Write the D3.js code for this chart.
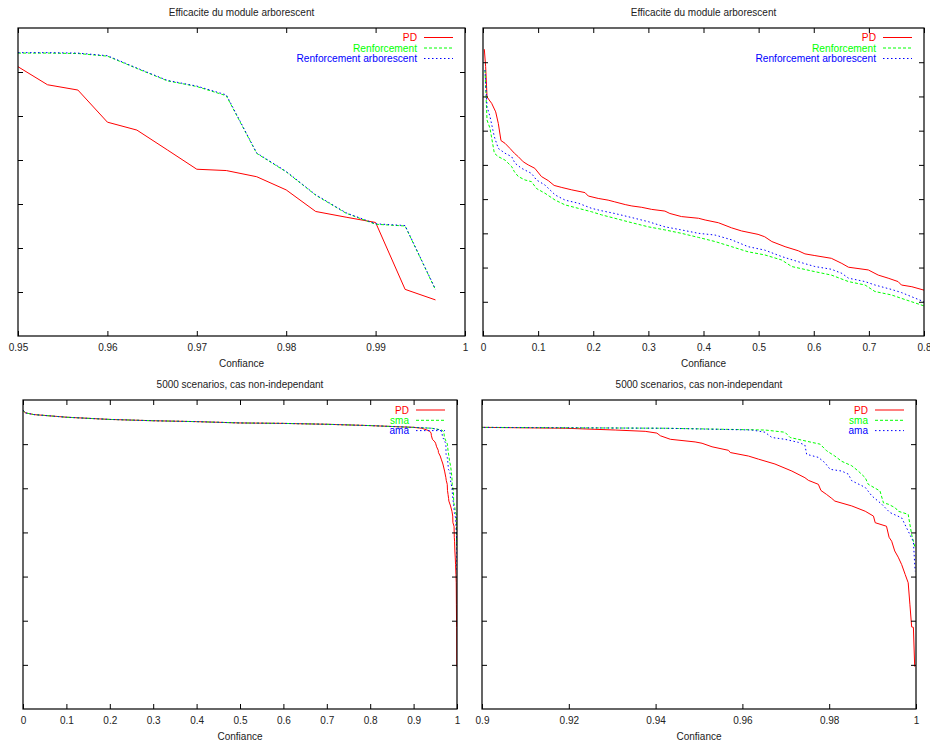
<!DOCTYPE html>
<html><head><meta charset="utf-8">
<script src="https://cdn.jsdelivr.net/npm/d3@7"></script>
<style>body{margin:0;background:#fff}svg text{font-family:"Liberation Sans",Arial,sans-serif}</style>
</head><body>
<svg id="c" width="930" height="742"></svg>
<script>
// ---------- DATA ----------
const titleTop = "Efficacite du module arborescent";
const titleBottom = "5000 scenarios, cas non-independant";
const xLabel = "Confiance";
const legendTop = ["PD", "Renforcement", "Renforcement arborescent"];
const legendBottom = ["PD", "sma", "ama"];

// Panel 1 (x = confiance 0.95..1)
const p1x = [0.95, 0.9533, 0.9567, 0.96, 0.9633, 0.9667, 0.97, 0.9733, 0.9767, 0.98, 0.9833, 0.9867, 0.99, 0.9933, 0.9967];
const p1PD   = [6.12, 5.71, 5.59, 4.86, 4.68, 4.23, 3.79, 3.76, 3.62, 3.32, 2.83, 2.70, 2.58, 1.06, 0.82];
const p1Renf = [6.43, 6.43, 6.42, 6.36, 6.08, 5.80, 5.67, 5.46, 4.15, 3.73, 3.20, 2.79, 2.54, 2.50, 1.05];
const p1Arb  = [6.44, 6.44, 6.43, 6.37, 6.09, 5.81, 5.68, 5.48, 4.16, 3.74, 3.21, 2.80, 2.55, 2.51, 1.06];
const p1XTicks = [0.95, 0.96, 0.97, 0.98, 0.99, 1];

// Panel 2 (x = confiance 0..0.8)
const p2PD = [[0.0024,8.38],[0.0048,7.87],[0.0073,6.99],[0.011,6.90],[0.0157,6.80],[0.023,6.55],[0.0278,6.21],[0.0326,5.71],[0.040,5.63],[0.049,5.48],[0.057,5.34],[0.064,5.24],[0.073,5.09],[0.082,5.00],[0.094,4.90],[0.106,4.66],[0.1185,4.54],[0.129,4.40],[0.143,4.34],[0.161,4.27],[0.185,4.19],[0.191,4.09],[0.209,4.02],[0.227,3.97],[0.239,3.92],[0.258,3.84],[0.270,3.80],[0.288,3.76],[0.306,3.70],[0.330,3.65],[0.339,3.58],[0.360,3.49],[0.391,3.44],[0.403,3.39],[0.427,3.31],[0.451,3.16],[0.469,3.07],[0.499,2.97],[0.511,2.90],[0.524,2.76],[0.548,2.61],[0.572,2.49],[0.584,2.40],[0.602,2.35],[0.632,2.27],[0.651,2.12],[0.663,2.01],[0.699,1.93],[0.717,1.78],[0.735,1.69],[0.753,1.59],[0.759,1.49],[0.778,1.44],[0.800,1.34]];
const p2Renf = [[0.0036,7.77],[0.0073,6.31],[0.0127,6.07],[0.0206,5.34],[0.0278,5.24],[0.040,5.14],[0.052,4.95],[0.057,4.80],[0.064,4.66],[0.076,4.56],[0.088,4.51],[0.097,4.31],[0.1125,4.17],[0.131,3.97],[0.149,3.83],[0.173,3.73],[0.197,3.63],[0.215,3.54],[0.239,3.44],[0.270,3.31],[0.300,3.19],[0.330,3.10],[0.360,3.00],[0.391,2.88],[0.421,2.76],[0.451,2.61],[0.481,2.46],[0.511,2.37],[0.542,2.22],[0.560,2.03],[0.602,1.88],[0.632,1.78],[0.663,1.59],[0.693,1.49],[0.711,1.30],[0.741,1.20],[0.759,1.10],[0.800,0.88]];
const p2Arb = [[0.0036,7.77],[0.0073,6.70],[0.0127,6.41],[0.0206,5.82],[0.0278,5.48],[0.040,5.34],[0.052,5.24],[0.058,5.05],[0.070,4.90],[0.088,4.75],[0.097,4.56],[0.1125,4.41],[0.131,4.12],[0.149,3.97],[0.173,3.88],[0.197,3.73],[0.215,3.66],[0.239,3.58],[0.270,3.46],[0.300,3.34],[0.330,3.19],[0.360,3.10],[0.391,3.00],[0.421,2.95],[0.451,2.81],[0.481,2.61],[0.511,2.51],[0.542,2.32],[0.572,2.17],[0.602,2.03],[0.632,1.95],[0.651,1.83],[0.663,1.69],[0.693,1.59],[0.711,1.49],[0.741,1.36],[0.759,1.27],[0.800,1.00]];
const p2XTicks = [0, 0.1, 0.2, 0.3, 0.4, 0.5, 0.6, 0.7, 0.8];

// Panels 3 & 4 (same series, full range and zoom on 0.9..1)
const sHead = [[0,6.77],[0.005,6.71],[0.025,6.67],[0.1,6.61],[0.2,6.56],[0.3,6.53],[0.4,6.51],[0.5,6.48],[0.6,6.47],[0.7,6.45],[0.8,6.42],[0.9,6.38]];
const sPD = [[0.9192,6.36],[0.9307,6.32],[0.9376,6.29],[0.9403,6.25],[0.9411,6.19],[0.9434,6.11],[0.9491,6.05],[0.9507,6.02],[0.9530,5.94],[0.9568,5.86],[0.9572,5.81],[0.9614,5.73],[0.9637,5.66],[0.9675,5.55],[0.9714,5.39],[0.9744,5.24],[0.9752,5.18],[0.9775,5.09],[0.9781,4.95],[0.9794,4.86],[0.9806,4.77],[0.9813,4.71],[0.9852,4.60],[0.9883,4.48],[0.9902,4.37],[0.9906,4.22],[0.9932,4.14],[0.9938,3.89],[0.9944,3.80],[0.9951,3.58],[0.9959,3.44],[0.9967,3.27],[0.9975,3.05],[0.9982,2.86],[0.9986,2.36],[0.9990,1.86],[0.9994,1.85],[0.9997,0.96]];
const sSma = [[0.9422,6.36],[0.9652,6.32],[0.9698,6.27],[0.9710,6.15],[0.9760,6.04],[0.9779,6.00],[0.9794,5.85],[0.9813,5.73],[0.9829,5.61],[0.9852,5.51],[0.9867,5.39],[0.9883,5.24],[0.9890,5.09],[0.9917,4.94],[0.9925,4.67],[0.9936,4.64],[0.9952,4.56],[0.9959,4.48],[0.9982,4.41],[0.9990,3.95],[0.9998,3.65]];
const sAma = [[0.9422,6.36],[0.9622,6.32],[0.9652,6.27],[0.9668,6.15],[0.9698,6.11],[0.9729,6.04],[0.9744,5.98],[0.9748,5.77],[0.9775,5.70],[0.9790,5.58],[0.9802,5.43],[0.9829,5.39],[0.9844,5.32],[0.9852,5.17],[0.9883,5.02],[0.9898,4.83],[0.9921,4.64],[0.9940,4.45],[0.9967,4.33],[0.9986,3.95],[0.9994,3.79],[0.9998,3.12]];
const p3XTicks = [0, 0.1, 0.2, 0.3, 0.4, 0.5, 0.6, 0.7, 0.8, 0.9, 1];
const p4XTicks = [0.9, 0.92, 0.94, 0.96, 0.98, 1];

// ---------- STYLES ----------
const seriesColors = ["#ff0000", "#00ff00", "#0000ff"];
const seriesDash = [null, "3,2", "1.5,2.5"];

const svg = d3.select("#c");

function panel(cfg) {
  const {l, t, r, b} = cfg.frame;
  const x = d3.scaleLinear().domain(cfg.xDomain).range([l, r]);
  const y = d3.scaleLinear().domain(cfg.yDomain).range([b, t]);
  const g = svg.append("g");
  const id = "clip" + cfg.id;
  svg.append("clipPath").attr("id", id).append("rect")
    .attr("x", l).attr("y", t).attr("width", r - l).attr("height", b - t);

  const line = d3.line().x(d => x(d[0])).y(d => y(d[1]));
  const sg = g.append("g").attr("clip-path", `url(#${id})`);
  cfg.series.forEach((s, i) => {
    sg.append("path").datum(s).attr("d", line)
      .attr("fill", "none").attr("stroke", seriesColors[i]).attr("stroke-width", 1)
      .attr("stroke-dasharray", seriesDash[i]);
  });

  const tl = 5;
  const bx = g.append("g").attr("transform", `translate(0,${b})`)
    .call(d3.axisBottom(x).tickValues(cfg.xTicks).tickSize(-tl).tickPadding(8)
      .tickFormat(d => String(+d.toFixed(3))));
  bx.select(".domain").remove();
  bx.selectAll("text").attr("font-size", 10).attr("fill", "#222").attr("dy", "0.71em");
  bx.selectAll("line").attr("stroke", "#000");
  const tx = g.append("g").attr("transform", `translate(0,${t})`)
    .call(d3.axisTop(x).tickValues(cfg.xTicks).tickSize(-tl).tickFormat(""));
  tx.select(".domain").remove();
  const yTicks = d3.range(cfg.yDomain[0] + 1, cfg.yDomain[1]);
  const ly = g.append("g").attr("transform", `translate(${l},0)`)
    .call(d3.axisLeft(y).tickValues(yTicks).tickSize(-tl).tickFormat(""));
  ly.select(".domain").remove();
  const ry = g.append("g").attr("transform", `translate(${r},0)`)
    .call(d3.axisRight(y).tickValues(yTicks).tickSize(-tl).tickFormat(""));
  ry.select(".domain").remove();

  g.append("rect").attr("x", l).attr("y", t).attr("width", r - l).attr("height", b - t)
    .attr("fill", "none").attr("stroke", "#000").attr("stroke-width", 1.2);

  g.append("text").attr("x", (l + r) / 2).attr("y", t - 12).attr("text-anchor", "middle")
    .attr("font-size", 10).attr("fill", "#222").text(cfg.title);
  g.append("text").attr("x", (l + r) / 2).attr("y", b + 31).attr("text-anchor", "middle")
    .attr("font-size", 10).attr("fill", "#222").text(xLabel);

  cfg.legend.forEach((name, i) => {
    const yy = cfg.legendPos[1] + i * cfg.legendStep;
    g.append("text").attr("x", cfg.legendPos[0]).attr("y", yy).attr("dy", "0.35em")
      .attr("text-anchor", "end").attr("font-size", cfg.legendFont).attr("fill", seriesColors[i]).text(name);
    g.append("line").attr("x1", cfg.legendPos[0] + 7).attr("x2", cfg.legendPos[0] + 36)
      .attr("y1", yy).attr("y2", yy).attr("stroke", seriesColors[i]).attr("stroke-width", 1)
      .attr("stroke-dasharray", seriesDash[i]);
  });
}

const zip = (xs, ys) => xs.map((v, i) => [v, ys[i]]);

panel({id: 1, frame: {l: 18, t: 28, r: 465, b: 336}, xDomain: [0.95, 1], yDomain: [0, 7],
  xTicks: p1XTicks, title: titleTop, legend: legendTop, legendPos: [417, 37.5], legendStep: 10.5, legendFont: 10.2,
  series: [zip(p1x, p1PD), zip(p1x, p1Renf), zip(p1x, p1Arb)]});
panel({id: 2, frame: {l: 483, t: 28, r: 924, b: 336}, xDomain: [0, 0.8], yDomain: [0, 9],
  xTicks: p2XTicks, title: titleTop, legend: legendTop, legendPos: [876, 37.5], legendStep: 10.5, legendFont: 10.2,
  series: [p2PD, p2Renf, p2Arb]});
panel({id: 3, frame: {l: 23, t: 400, r: 457, b: 709}, xDomain: [0, 1], yDomain: [0, 7],
  xTicks: p3XTicks, title: titleBottom, legend: legendBottom, legendPos: [409, 410], legendStep: 10.3, legendFont: 10,
  series: [sHead.concat(sPD), sHead.concat(sSma), sHead.concat(sAma)]});
panel({id: 4, frame: {l: 482, t: 400, r: 916, b: 709}, xDomain: [0.9, 1], yDomain: [0, 7],
  xTicks: p4XTicks, title: titleBottom, legend: legendBottom, legendPos: [868, 410], legendStep: 10.3, legendFont: 10,
  series: [sHead.concat(sPD), sHead.concat(sSma), sHead.concat(sAma)]});
</script>
</body></html>
